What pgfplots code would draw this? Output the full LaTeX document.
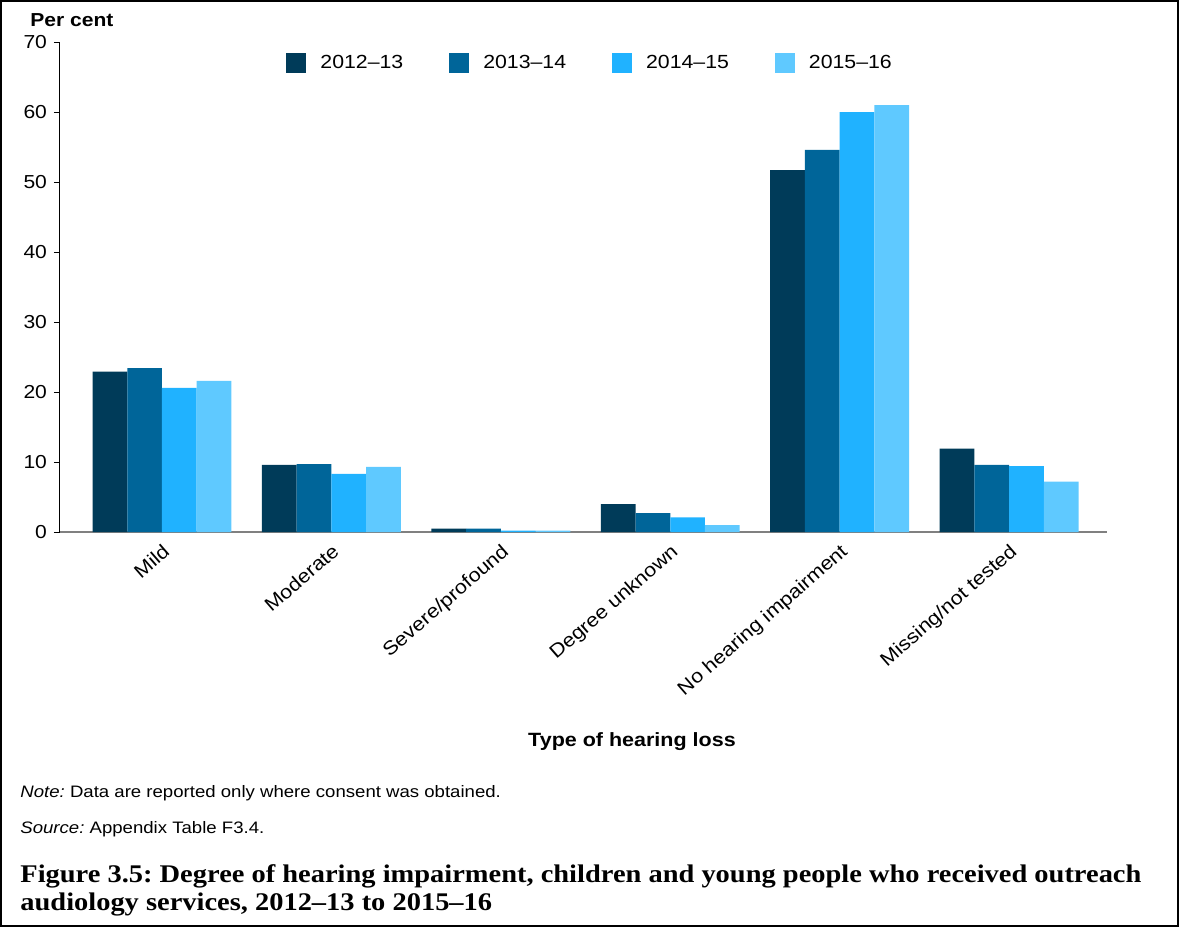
\documentclass[border=0pt]{standalone}
\usepackage{pgfplots}
\pgfplotsset{compat=1.18}
\usepackage{fontspec}
\setmainfont{Liberation Sans}[FakeStretch=1.12]
\newfontfamily\capfont{Liberation Serif}[Ligatures=TeX,FakeStretch=1.12]
\definecolor{cA}{RGB}{0,59,89}
\definecolor{cB}{RGB}{0,101,153}
\definecolor{cC}{RGB}{32,178,255}
\definecolor{cD}{RGB}{95,201,255}
\frenchspacing
\begin{document}
\begin{tikzpicture}
\useasboundingbox (-30pt,-197.5pt) rectangle (559.5pt,266pt);
\draw[line width=1pt] (-29.5pt,-197pt) rectangle (559pt,265.5pt);
\begin{axis}[
  at={(0,0)}, anchor=south west,
  scale only axis, width=523.5pt, height=245pt,
  ymin=0, ymax=70, ytick={0,10,...,70},
  xmin=-0.602, xmax=5.578,
  xtick={0,1,2,3,4,5},
  xticklabels={Mild,Moderate,Severe/profound,Degree unknown,No hearing impairment,Missing/not tested},
  x tick label style={rotate=41, anchor=north east, font=\fontsize{9.6}{12}\selectfont, inner sep=1.5pt},
  y tick label style={font=\fontsize{9.4}{12}\selectfont},
  /pgf/number format/assume math mode=true,
  axis x line*=bottom, axis y line*=left,
  x axis line style={draw=gray, line width=1pt},
  y axis line style={draw=black, line width=0.5pt},
  xtick style={draw=none},
  ytick style={draw=black, line width=0.5pt},
  tick align=outside, major tick length=3pt,
  ybar=0pt, bar width=0.205,
  legend columns=4,
  legend style={at={(0.2159,0.957)}, anchor=west, draw=none, fill=none, inner sep=0pt,
    font=\fontsize{9.5}{12}\selectfont,
    /tikz/every even column/.append style={column sep=21pt},
    /tikz/every odd column/.append style={column sep=5pt}},
  legend cell align=left,
  legend image code/.code={\fill[#1] (0pt,-5pt) rectangle (10pt,5pt);},
]
\addplot[fill=cA, draw=none, bar shift=-0.3075] coordinates {(0,22.9) (1,9.6) (2,0.5) (3,4.0) (4,51.7) (5,11.9)};
\addplot[fill=cB, draw=none, bar shift=-0.1025] coordinates {(0,23.4) (1,9.7) (2,0.5) (3,2.7) (4,54.6) (5,9.6)};
\addplot[fill=cC, draw=none, bar shift=0.1025] coordinates {(0,20.6) (1,8.3) (2,0.2) (3,2.1) (4,60.0) (5,9.4)};
\addplot[fill=cD, draw=none, bar shift=0.3075] coordinates {(0,21.6) (1,9.3) (2,0.2) (3,1.0) (4,61.0) (5,7.2)};
\legend{2012--13,2013--14,2014--15,2015--16}
\end{axis}
\node[anchor=base west, inner sep=0pt, font=\bfseries\fontsize{9.4}{12}\selectfont] at (-15pt,252.5pt) {Per cent};
\node[anchor=base, inner sep=0pt, font=\bfseries\fontsize{9.6}{12}\selectfont] at (286pt,-107pt) {Type of hearing loss};
\node[anchor=base west, inner sep=0pt, font=\fontsize{8.3}{10}\selectfont] at (-20pt,-132.5pt) {\textit{Note:} Data are reported only where consent was obtained.};
\node[anchor=base west, inner sep=0pt, font=\fontsize{8.3}{10}\selectfont] at (-20pt,-150.5pt) {\textit{Source:} Appendix Table F3.4.};
\node[anchor=base west, inner sep=0pt, font=\capfont\bfseries\fontsize{12.7}{14}\selectfont] at (-20pt,-175pt) {Figure 3.5: Degree of hearing impairment, children and young people who received outreach};
\node[anchor=base west, inner sep=0pt, font=\capfont\bfseries\fontsize{12.7}{14}\selectfont] at (-20pt,-189pt) {audiology services, 2012--13 to 2015--16};
\end{tikzpicture}
\end{document}
